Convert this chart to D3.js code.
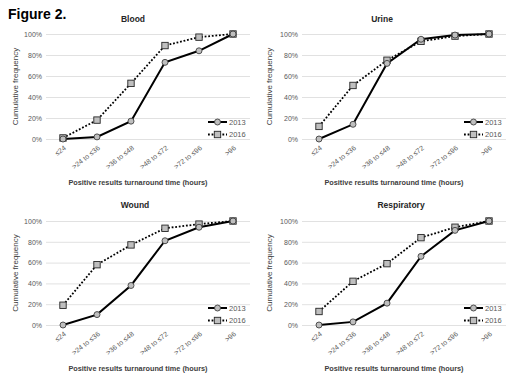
<!DOCTYPE html>
<html>
<head>
<meta charset="utf-8">
<script src="https://cdn.jsdelivr.net/npm/d3@7"></script>
<style>
  body { margin: 0; background: #fff; }
  svg { font-family: "Liberation Sans", Arial, sans-serif; }
  .tick-lab { font-size: 7px; fill: #595959; }
  .ttl { font-size: 8.5px; font-weight: bold; fill: #262626; }
  .axttl { font-size: 7.3px; fill: #404040; }
  .legend { font-size: 7.5px; fill: #595959; }
</style>
</head>
<body>
<div id="wrapper"></div>
<script>
// categories and series (cumulative frequency, 0..1)
var categories = ["\u226424", ">24 to \u226436", ">36 to \u226448", ">48 to \u226472", ">72 to \u226496", ">96"];
var yTicks = [0, 0.2, 0.4, 0.6, 0.8, 1];
var years = ["2013", "2016"];
var panelNames = ["Blood", "Urine", "Wound", "Respiratory"];

var blood2013 = [0, 0.02, 0.17, 0.73, 0.84, 1.00];
var blood2016 = [0.01, 0.18, 0.53, 0.89, 0.97, 1.00];
var urine2013 = [0, 0.14, 0.72, 0.95, 0.99, 1.00];
var urine2016 = [0.12, 0.51, 0.75, 0.93, 0.98, 1.00];
var wound2013 = [0, 0.10, 0.38, 0.81, 0.94, 1.00];
var wound2016 = [0.19, 0.58, 0.77, 0.93, 0.97, 1.00];
var resp2013 = [0, 0.03, 0.21, 0.66, 0.91, 1.00];
var resp2016 = [0.13, 0.42, 0.59, 0.84, 0.94, 1.00];

var width = 529, height = 380;

// layout of each panel (plot area bounds in page pixels)
var panels = [
    { name: panelNames[0], s1: blood2013, s2: blood2016, x0: 46, x1: 250, y0: 139, y1: 34, titleX: 133, titleY: 22, yTitleX: 15 },
    { name: panelNames[1], s1: urine2013, s2: urine2016, x0: 302, x1: 506, y0: 139, y1: 34, titleX: 382, titleY: 22, yTitleX: 269 },
    { name: panelNames[2], s1: wound2013, s2: wound2016, x0: 46, x1: 250, y0: 325, y1: 221, titleX: 135, titleY: 208, yTitleX: 15 },
    { name: panelNames[3], s1: resp2013, s2: resp2016, x0: 302, x1: 506, y0: 325, y1: 221, titleX: 401, titleY: 208, yTitleX: 269 }
];

var svg = d3.select("#wrapper")
    .append("svg")
    .attr("width", width)
    .attr("height", height);

svg.append("text")
    .attr("x", 8)
    .attr("y", 19)
    .style("font-size", "14px")
    .style("font-weight", "bold")
    .attr("fill", "#000")
    .text("Figure 2.");

// Function: drawing one panel
var drawPanel = function(p) {
    var g = svg.append("g");

    var x = d3.scalePoint()
        .domain(categories)
        .range([p.x0, p.x1])
        .padding(0.5);

    var y = d3.scaleLinear()
        .domain([0, 1])
        .range([p.y0, p.y1]);

    // gridlines + y labels
    var yAxis = d3.axisLeft(y)
        .tickValues(yTicks)
        .tickSize(-(p.x1 - p.x0))
        .tickPadding(4)
        .tickFormat(d3.format(".0%"));

    var ya = g.append("g")
        .attr("transform", "translate(" + p.x0 + ",0)")
        .call(yAxis);
    ya.select(".domain").remove();
    ya.selectAll(".tick line").attr("stroke", "#d9d9d9").attr("stroke-width", 0.8);
    ya.selectAll(".tick text").attr("class", "tick-lab").attr("font-family", null).attr("font-size", null).attr("fill", null);

    // x labels (rotated)
    g.selectAll("xlab")
        .data(categories)
        .enter()
        .append("text")
        .attr("class", "tick-lab")
        .attr("text-anchor", "end")
        .attr("transform", function(d) { return "translate(" + (x(d) + 2) + "," + (p.y0 + 8) + ") rotate(-38)"; })
        .attr("dy", "0.35em")
        .text(function(d) { return d; });

    // titles
    g.append("text")
        .attr("class", "ttl")
        .attr("x", p.titleX)
        .attr("y", p.titleY)
        .attr("text-anchor", "middle")
        .text(p.name);

    g.append("text")
        .attr("class", "axttl")
        .attr("x", (p.x0 + p.x1) / 2 - 10)
        .attr("y", p.y0 + 46)
        .attr("text-anchor", "middle")
        .style("font-weight", "bold")
        .text("Positive results turnaround time (hours)");

    g.append("text")
        .attr("class", "axttl")
        .attr("transform", "translate(" + (p.yTitleX + 3) + "," + ((p.y0 + p.y1) / 2) + ") rotate(-90)")
        .attr("text-anchor", "middle")
        .style("font-size", "8px")
        .text("Cumulative frequency");

    var line = d3.line()
        .x(function(d, i) { return x(categories[i]); })
        .y(function(d) { return y(d); });

    // 2016 dotted
    g.append("path")
        .datum(p.s2)
        .attr("d", line)
        .attr("fill", "none")
        .attr("stroke", "#000")
        .attr("stroke-width", 1.8)
        .attr("stroke-dasharray", "1.8,1.8");

    // 2013 solid
    g.append("path")
        .datum(p.s1)
        .attr("d", line)
        .attr("fill", "none")
        .attr("stroke", "#000")
        .attr("stroke-width", 2);

    g.selectAll("sq")
        .data(p.s2)
        .enter()
        .append("rect")
        .attr("x", function(d, i) { return x(categories[i]) - 3.2; })
        .attr("y", function(d) { return y(d) - 3.2; })
        .attr("width", 6.4)
        .attr("height", 6.4)
        .attr("fill", "#bfbfbf")
        .attr("stroke", "#262626")
        .attr("stroke-width", 0.9);

    g.selectAll("circ")
        .data(p.s1)
        .enter()
        .append("circle")
        .attr("cx", function(d, i) { return x(categories[i]); })
        .attr("cy", function(d) { return y(d); })
        .attr("r", 3)
        .attr("fill", "#bfbfbf")
        .attr("stroke", "#404040")
        .attr("stroke-width", 0.9);

    // legend
    var lx = p.x1 - 42, ly = p.y0 - 17;
    var lg = g.append("g").attr("transform", "translate(" + lx + "," + ly + ")");
    years.forEach(function(yr, i) {
        var row = lg.append("g").attr("transform", "translate(0," + (i * 12.5) + ")");
        row.append("line")
            .attr("x1", 0).attr("x2", 19)
            .attr("stroke", "#000")
            .attr("stroke-width", i === 0 ? 2 : 1.8)
            .attr("stroke-dasharray", i === 0 ? null : "1.8,1.8");
        if (i === 0) {
            row.append("circle").attr("cx", 9.5).attr("r", 3)
                .attr("fill", "#bfbfbf").attr("stroke", "#404040").attr("stroke-width", 0.9);
        } else {
            row.append("rect").attr("x", 6.3).attr("y", -3.2).attr("width", 6.4).attr("height", 6.4)
                .attr("fill", "#bfbfbf").attr("stroke", "#262626").attr("stroke-width", 0.9);
        }
        row.append("text")
            .attr("class", "legend")
            .attr("x", 21)
            .attr("dy", "0.35em")
            .text(yr);
    });
};

panels.forEach(drawPanel);
</script>
</body>
</html>
